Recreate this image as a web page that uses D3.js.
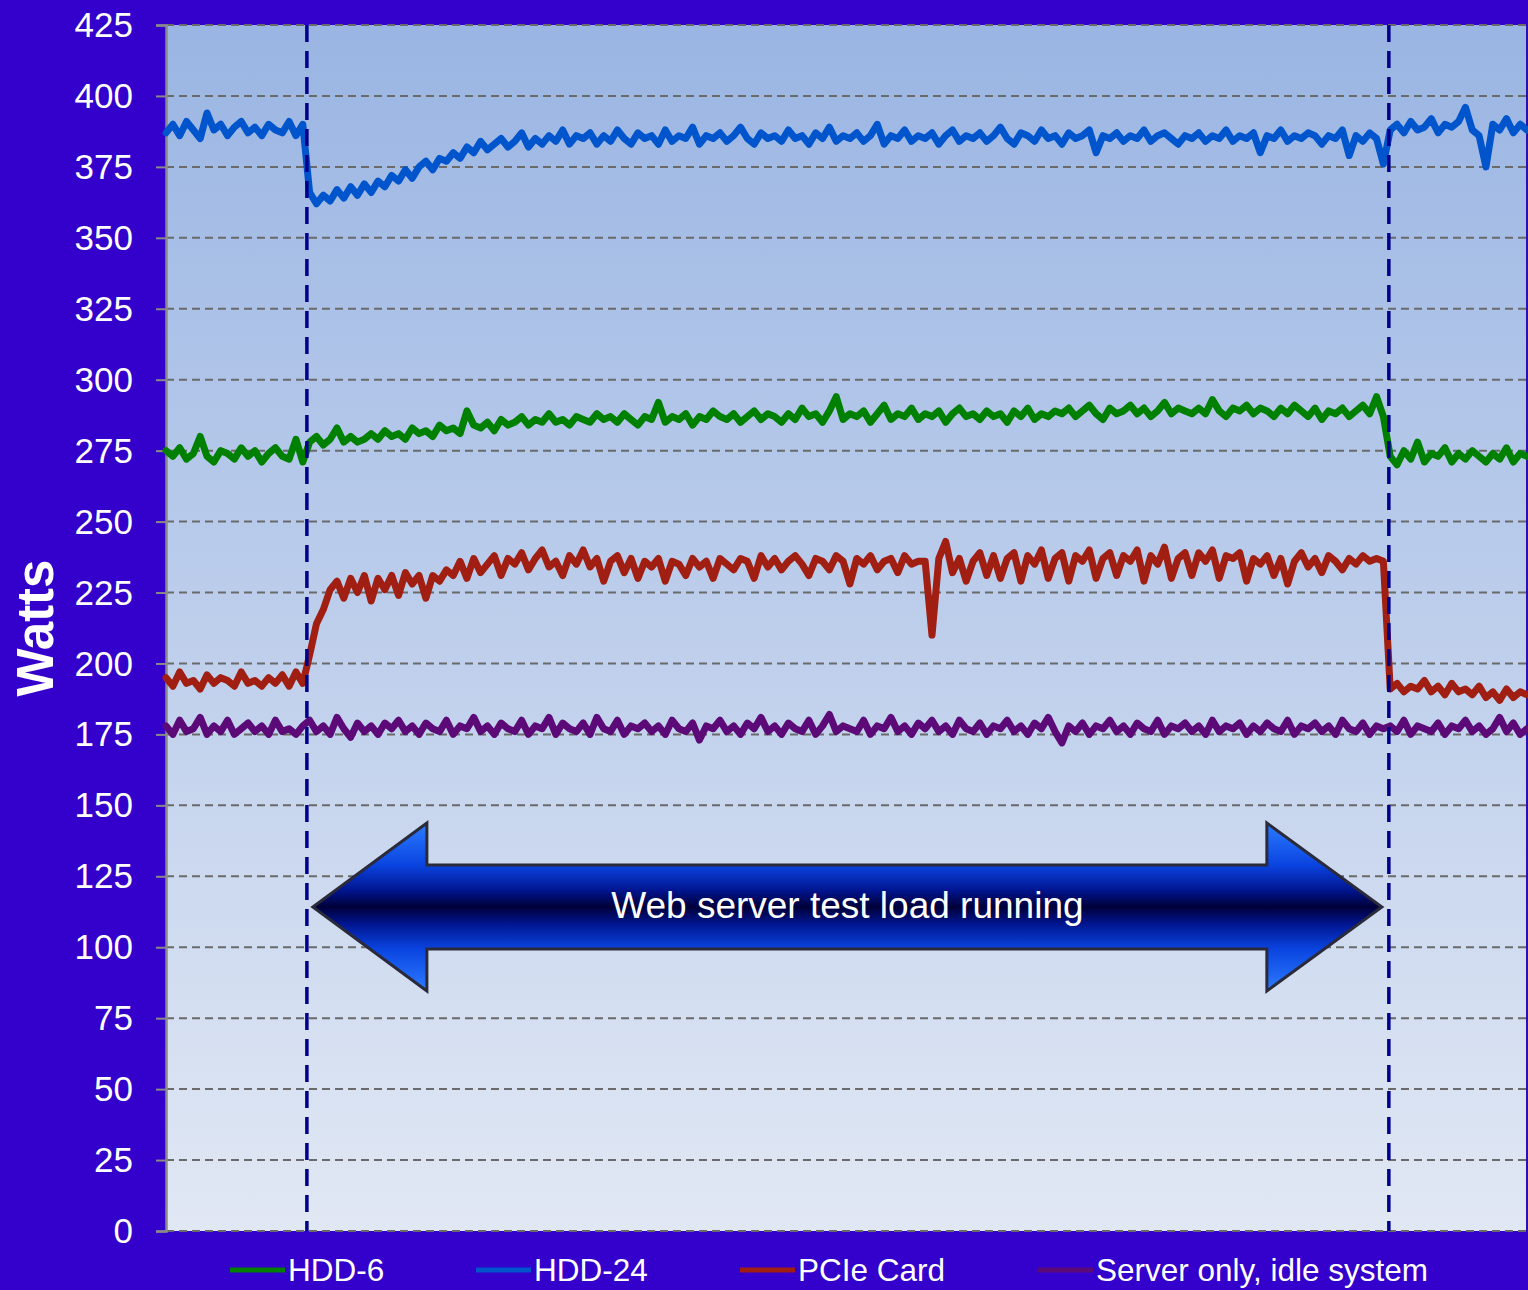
<!DOCTYPE html>
<html>
<head>
<meta charset="utf-8">
<script src="https://cdn.jsdelivr.net/npm/d3@7/dist/d3.min.js"></script>
<style>
  html, body { margin: 0; padding: 0; background: #3300cc; }
  svg { display: block; }
  text { font-family: "Liberation Sans", Arial, sans-serif; }
</style>
</head>
<body>
<svg id="chart" width="1528" height="1290"></svg>
<script>
// Power draw (W) sampled at regular intervals, 200 samples per configuration
const hdd6 = [
  275, 273, 276, 272, 274, 280, 273, 271, 275, 274, 272, 276, 273, 275, 271, 274, 276, 273, 272, 279, 271,
  278, 280, 277, 279, 283, 278, 280, 278, 279, 281,
  279, 282, 280, 281, 279, 283, 281, 282, 280, 284,
  282, 283, 281, 289, 284, 283, 285, 282, 286, 284,
  285, 287, 284, 286, 285, 288, 285, 286, 284, 287,
  286, 285, 288, 286, 287, 285, 288, 286, 284, 287,
  286, 292, 285, 287, 286, 288, 284, 287, 286, 289,
  287, 286, 288, 285, 287, 289, 286, 288, 287, 285,
  288, 286, 290, 287, 288, 285, 289, 294, 286, 288,
  287, 289, 285, 288, 291, 286, 288, 287, 290, 286,
  288, 287, 289, 285, 288, 290, 287, 288, 286, 289,
  287, 288, 285, 289, 287, 290, 286, 288, 287, 289,
  288, 290, 287, 289, 291, 288, 286, 290, 288, 289,
  291, 288, 290, 287, 289, 292, 288, 290, 289, 288,
  290, 288, 293, 289, 287, 290, 289, 291, 288, 290,
  289, 287, 290, 288, 291, 289, 287, 290, 286, 289,
  288, 290, 287, 289, 291, 288, 294, 287,
  273, 270, 275, 272, 278, 271, 274, 273, 276, 271, 274, 272,
  275, 273, 271, 274, 272, 276, 271, 274, 273
];

const hdd24 = [
  387, 390, 386, 391, 388, 385, 394, 388, 390, 386, 389, 391, 387, 389, 386, 390, 388, 387, 391, 386, 390,
  366, 362, 365, 363, 367, 364, 368, 365, 369, 366,
  370, 368, 372, 370, 374, 371, 375, 377, 374, 378,
  377, 380, 378, 382, 380, 384, 381, 383, 385, 382,
  384, 387, 382, 385, 383, 386, 384, 388, 383, 386,
  385, 387, 383, 386, 384, 388, 385, 383, 387, 385,
  386, 383, 388, 384, 386, 385, 389, 383, 386, 385,
  387, 384, 386, 389, 385, 383, 387, 385, 386, 384,
  388, 385, 386, 383, 387, 385, 389, 384, 386, 385,
  387, 384, 386, 390, 383, 386, 385, 388, 384, 386,
  385, 387, 383, 386, 388, 384, 386, 385, 387, 384,
  386, 389, 385, 383, 387, 386, 384, 388, 385, 386,
  383, 387, 385, 386, 388, 380, 386, 385, 387, 384,
  386, 385, 388, 384, 386, 387, 385, 383, 386, 385,
  387, 384, 386, 385, 388, 384, 386, 385, 387, 380,
  386, 385, 388, 384, 386, 385, 387, 386, 383, 386,
  385, 388, 379, 386, 384, 387, 385, 376,
  388, 390, 387, 391, 388, 389, 392, 387, 390, 389, 391, 396,
  388, 386, 375, 390, 388, 392, 387, 390, 388
];

const pcie = [
  195, 192, 197, 193, 194, 191, 196, 193, 195, 194, 192, 197, 193, 194, 192, 195, 193, 196, 192, 197, 193,
  203, 214, 219, 226, 229, 223, 230, 225, 231, 222,
  230, 226, 231, 224, 232, 228, 231, 223, 231, 229,
  233, 231, 236, 230, 237, 232, 235, 238, 231, 237,
  235, 239, 233, 237, 240, 234, 236, 231, 238, 235,
  240, 234, 237, 229, 236, 238, 232, 237, 230, 236,
  234, 237, 229, 236, 235, 231, 237, 234, 236, 230,
  237, 235, 233, 237, 236, 230, 238, 234, 237, 233,
  236, 238, 235, 231, 237, 236, 233, 238, 236, 228,
  237, 235, 238, 233, 236, 237, 232, 238, 235, 236,
  236, 210, 237, 243, 232, 237, 229, 236, 239, 231,
  238, 230, 237, 239, 229, 238, 235, 240, 230, 237,
  239, 229, 238, 236, 240, 230, 237, 239, 231, 238,
  236, 240, 229, 238, 235, 241, 230, 237, 239, 231,
  239, 236, 240, 230, 238, 237, 239, 229, 237, 235,
  238, 231, 237, 228, 236, 239, 234, 237, 232, 238,
  236, 233, 237, 235, 238, 236, 237, 236,
  191, 193, 190, 192, 191, 194, 190, 192, 189, 193, 190, 191,
  189, 192, 188, 190, 187, 191, 188, 190, 189
];

const serverIdle = [
  178, 175, 180, 176, 177, 181, 175, 178, 176, 180, 175, 177, 179, 176, 178, 175, 180, 176, 177, 175, 178,
  180, 176, 178, 175, 181, 177, 174, 179, 176, 178,
  175, 179, 177, 180, 176, 178, 175, 179, 177, 176,
  180, 175, 178, 177, 181, 176, 178, 175, 179, 177,
  176, 180, 175, 178, 177, 181, 175, 179, 177, 176,
  179, 175, 181, 177, 176, 180, 175, 178, 177, 179,
  176, 178, 175, 180, 177, 176, 179, 173, 178, 177,
  180, 176, 178, 175, 179, 177, 181, 176, 178, 175,
  179, 177, 176, 180, 175, 178, 182, 176, 178, 177,
  176, 180, 175, 178, 177, 181, 176, 178, 175, 179,
  177, 180, 176, 178, 175, 180, 177, 176, 179, 175,
  178, 177, 180, 176, 178, 175, 179, 177, 181, 176,
  172, 178, 176, 179, 175, 178, 177, 180, 176, 178,
  175, 179, 177, 176, 180, 175, 178, 177, 179, 176,
  178, 175, 180, 176, 178, 177, 179, 175, 178, 176,
  179, 177, 176, 180, 175, 178, 177, 179, 176, 178,
  175, 180, 177, 176, 179, 175, 178, 177,
  178, 176, 180, 175, 178, 177, 176, 179, 175, 178, 177, 180,
  176, 178, 175, 177, 181, 176, 179, 175, 177
];

const seriesNames = ["HDD-6", "HDD-24", "PCIe Card", "Server only, idle system"];
const seriesColors = ["#008000", "#0055cc", "#a01e12", "#5c0a78"];
const yTicks = [0, 25, 50, 75, 100, 125, 150, 175, 200, 225, 250, 275, 300, 325, 350, 375, 400, 425];
const loadWindow = [20.6, 178.8];          // sample index where the load starts / stops
const annotationText = "Web server test load running";
const yTitle = "Watts";

const svg = d3.select("#chart");
const W = 1528, H = 1290;
const plot = { left: 166, right: 1527, top: 25, bottom: 1231 };

const x = d3.scaleLinear().domain([0, hdd6.length - 1]).range([plot.left, plot.right]);
const y = d3.scaleLinear().domain([0, 425]).range([plot.bottom, plot.top]);

// background
svg.append("rect").attr("width", W).attr("height", H).attr("fill", "#3300cc");

const defs = svg.append("defs");
const bg = defs.append("linearGradient").attr("id", "plotBg")
  .attr("x1", 0).attr("y1", 0).attr("x2", 0).attr("y2", 1);
bg.append("stop").attr("offset", "0%").attr("stop-color", "#9ab5e3");
bg.append("stop").attr("offset", "100%").attr("stop-color", "#e1e8f4");

svg.append("rect")
  .attr("x", plot.left).attr("y", plot.top)
  .attr("width", plot.right - plot.left).attr("height", plot.bottom - plot.top)
  .attr("fill", "url(#plotBg)");

// horizontal gridlines
svg.append("g").selectAll("line").data(yTicks).join("line")
  .attr("x1", plot.left).attr("x2", plot.right)
  .attr("y1", d => y(d)).attr("y2", d => y(d))
  .attr("stroke", "#6a6a6a").attr("stroke-width", 2)
  .attr("stroke-dasharray", "8,5");

// y axis
const yAxis = d3.axisLeft(y).tickValues(yTicks).tickSize(10).tickPadding(23);
const gy = svg.append("g").attr("transform", `translate(${plot.left},0)`).call(yAxis);
gy.select(".domain").attr("stroke", "#8a8a8a").attr("stroke-width", 2.5);
gy.selectAll(".tick line").attr("stroke", "#8a8a8a").attr("stroke-width", 2);
gy.selectAll(".tick text")
  .attr("fill", "#ffffff")
  .style("font-family", "'Liberation Sans', Arial, sans-serif")
  .style("font-size", "35px")
  .attr("dy", "0.33em");

// right border of plot area
svg.append("line")
  .attr("x1", plot.right).attr("x2", plot.right)
  .attr("y1", plot.top).attr("y2", plot.bottom)
  .attr("stroke", "#2a10b0").attr("stroke-width", 2);

// y title
svg.append("text")
  .attr("transform", `translate(53,628) rotate(-90)`)
  .attr("text-anchor", "middle")
  .attr("fill", "#ffffff")
  .style("font-weight", "bold")
  .style("font-size", "51px")
  .text(yTitle);

// data lines
const line = d3.line().x((d, i) => x(i)).y(d => y(d));
const allSeries = [hdd6, hdd24, pcie, serverIdle];
svg.append("g").selectAll("path").data(allSeries).join("path")
  .attr("d", d => line(d))
  .attr("fill", "none")
  .attr("stroke", (d, i) => seriesColors[i])
  .attr("stroke-width", 7)
  .attr("stroke-linejoin", "round")
  .attr("stroke-linecap", "round");

// load start/stop markers
svg.append("g").selectAll("line").data(loadWindow).join("line")
  .attr("x1", d => x(d)).attr("x2", d => x(d))
  .attr("y1", plot.top).attr("y2", plot.bottom)
  .attr("stroke", "#00008a").attr("stroke-width", 3.5)
  .attr("stroke-dasharray", "17,9");

// double-headed annotation arrow spanning the load window
const arrowGrad = defs.append("linearGradient").attr("id", "arrowFill")
  .attr("x1", 0).attr("y1", 0).attr("x2", 0).attr("y2", 1);
[["0%", "#2c7cff"], ["25%", "#0a44e0"], ["40%", "#001590"], ["50%", "#000038"],
 ["60%", "#001590"], ["75%", "#0a44e0"], ["100%", "#2c7cff"]]
  .forEach(([o, c]) => arrowGrad.append("stop").attr("offset", o).attr("stop-color", c));

const aL = x(loadWindow[0]) + 6, aR = x(loadWindow[1]) - 7;
const aMid = 907, headH = 84, shaftH = 42, headW = 114;
const arrowPts = [
  [aL, aMid], [aL + headW, aMid - headH], [aL + headW, aMid - shaftH],
  [aR - headW - 1, aMid - shaftH], [aR - headW - 1, aMid - headH], [aR, aMid],
  [aR - headW - 1, aMid + headH], [aR - headW - 1, aMid + shaftH],
  [aL + headW, aMid + shaftH], [aL + headW, aMid + headH]
];
svg.append("path")
  .attr("d", d3.line()(arrowPts) + "Z")
  .attr("fill", "url(#arrowFill)")
  .attr("stroke", "#2a2a3a").attr("stroke-width", 3)
  .attr("stroke-linejoin", "miter");

svg.append("text")
  .attr("x", (aL + aR) / 2).attr("y", aMid - 2)
  .attr("dy", "0.35em")
  .attr("text-anchor", "middle")
  .attr("fill", "#ffffff")
  .style("font-size", "37px")
  .text(annotationText);

// legend
const legendX = [230, 476, 740, 1038];
const lg = svg.append("g").selectAll("g").data(seriesNames).join("g")
  .attr("transform", (d, i) => `translate(${legendX[i]},1270)`);
lg.append("line")
  .attr("x1", 0).attr("x2", 55).attr("y1", 0).attr("y2", 0)
  .attr("stroke", (d, i) => seriesColors[i]).attr("stroke-width", 5);
lg.append("text")
  .attr("x", 58).attr("dy", "0.36em")
  .attr("fill", "#ffffff")
  .style("font-size", "31.5px")
  .text(d => d);
</script>
</body>
</html>
